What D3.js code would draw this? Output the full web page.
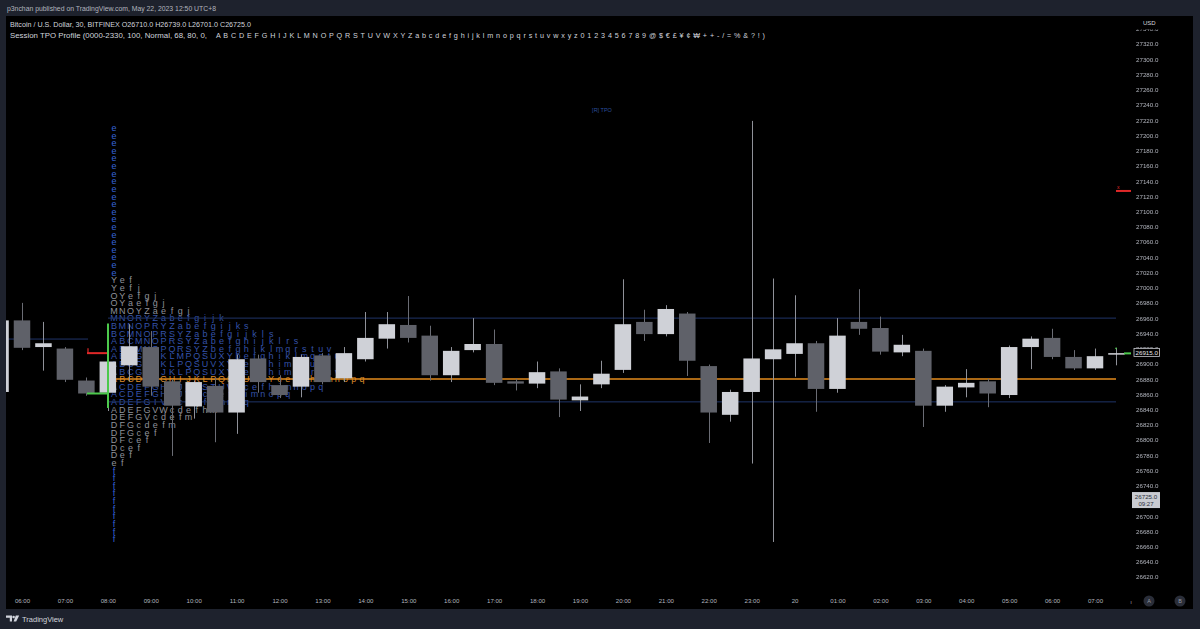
<!DOCTYPE html>
<html><head><meta charset="utf-8">
<script src="https://cdn.jsdelivr.net/npm/d3@7"></script>
<style>
body{margin:0;background:#1e222d;overflow:hidden;}
svg{display:block;font-family:"Liberation Sans",Arial,sans-serif;}
</style></head><body>
<svg id="c" width="1200" height="629"></svg>
<script>
// ---------- DATA ----------
const candleTimes = [
 "2023-05-19 05:30","2023-05-19 06:00","2023-05-19 06:30","2023-05-19 07:00","2023-05-19 07:30",
 "2023-05-19 08:00","2023-05-19 08:30","2023-05-19 09:00","2023-05-19 09:30","2023-05-19 10:00",
 "2023-05-19 10:30","2023-05-19 11:00","2023-05-19 11:30","2023-05-19 12:00","2023-05-19 12:30",
 "2023-05-19 13:00","2023-05-19 13:30","2023-05-19 14:00","2023-05-19 14:30","2023-05-19 15:00",
 "2023-05-19 15:30","2023-05-19 16:00","2023-05-19 16:30","2023-05-19 17:00","2023-05-19 17:30",
 "2023-05-19 18:00","2023-05-19 18:30","2023-05-19 19:00","2023-05-19 19:30","2023-05-19 20:00",
 "2023-05-19 20:30","2023-05-19 21:00","2023-05-19 21:30","2023-05-19 22:00","2023-05-19 22:30",
 "2023-05-19 23:00","2023-05-19 23:30","2023-05-20 00:00","2023-05-20 00:30","2023-05-20 01:00",
 "2023-05-20 01:30","2023-05-20 02:00","2023-05-20 02:30","2023-05-20 03:00","2023-05-20 03:30",
 "2023-05-20 04:00","2023-05-20 04:30","2023-05-20 05:00","2023-05-20 05:30","2023-05-20 06:00",
 "2023-05-20 06:30","2023-05-20 07:00","2023-05-20 07:30"];
const opens  = [26863,26957,26922,26920,26878,26862,26898,26922,26877,26844,26871,26836,26907,26872,26870,26911,26881,26906,26933,26951,26937,26885,26918,26926,26877,26874,26890,26852,26873,26892,26955,26939,26966,26897,26833,26863,26906,26913,26927,26867,26955,26947,26915,26917,26845,26869,26877,26859,26922,26934,26909,26894,26912];
const highs  = [26962,26980,26955,26922,26882,26935,26952,26943,26880,26878,26882,26912,26912,26885,26912,26914,26922,26968,26968,26989,26950,26922,26960,26945,26880,26903,26894,26873,26904,27011,26971,26977,26968,26899,26866,27219,27012,26990,26930,26960,26998,26962,26938,26920,26872,26893,26880,26924,26936,26946,26918,26920,26921];
const lows   = [26858,26918,26891,26876,26858,26838,26877,26858,26779,26828,26797,26808,26862,26855,26856,26873,26876,26903,26920,26928,26878,26876,26915,26872,26865,26868,26830,26838,26868,26888,26930,26936,26884,26796,26824,26769,26666,26883,26837,26862,26938,26912,26910,26817,26837,26856,26843,26855,26893,26906,26892,26892,26898];
const closes = [26957,26921,26927,26879,26861,26903,26923,26870,26845,26876,26836,26906,26876,26859,26909,26876,26914,26934,26952,26934,26885,26917,26926,26875,26874,26889,26853,26857,26887,26952,26939,26972,26904,26836,26863,26907,26919,26927,26867,26937,26946,26916,26925,26845,26870,26875,26861,26922,26933,26909,26894,26910,26914];

const tpoLevels = [27210,27200,27190,27180,27170,27160,27150,27140,27130,27120,27110,27100,27090,27080,27070,27060,27050,27040,27030,27020,
 27010,27000,26990,26980,26970,26960,26950,26940,26930,26920,26910,26900,26890,26880,26870,26860,26850,26840,26830,26820,26810,26800,26790,26780,26770,
 26760,26750,26740,26730,26720,26710,26700,26690,26680,26670];
const tpoRows = ["e","e","e","e","e","e","e","e","e","e","e","e","e","e","e","e","e","e","e","e",
 "Yef","Yefj","OYefgj","OYaefgj","MNOYZaefgj","MNORYZabefgijk","BMNOPRYZabefgijks","BCMNOPRSYZabefgijkls",
 "ABCMNOPRSYZabefghijklrs","ABCMNOPQRSYZbefghiklmqrstuv","ABCGHJKLMPQSUXYbefghiklmqstuv","ABCGHJKLPQSUVXYbefghimqtuv",
 "ABCGHIJKLPQSUXYbefghimoqrtuv","ABCDEFGHIJKLPQSTUVXYcefghimnopq","ACDEFGHIJPQSTUVWcefhimnopq","ACDEFGHIJVWcdefhimnopq",
 "ADEFGIVWcdefhmnpq","ADEFGVWcdefhm","DEFGVcdefm","DFGcdefm","DFGcef","DFcef","Dcef","Def","ef",
 "f","f","f","f","f","f","f","f","f","f"];
const pocPrice = 26880, vahPrice = 26960, valPrice = 26850;
const prevLevel = 26932.5;
const ibHigh = 26914, ibLow = 26861, ibRangeTop = 26953, ibRangeBottom = 26842;
const rightRed = 27127, lastMarker = 26915;
const lastPrice = 26725.0;

const priceTicks = d3.range(26620, 27341, 20);
const timeTickStrings = ["2023-05-19 06:00","2023-05-19 07:00","2023-05-19 08:00","2023-05-19 09:00","2023-05-19 10:00",
 "2023-05-19 11:00","2023-05-19 12:00","2023-05-19 13:00","2023-05-19 14:00","2023-05-19 15:00","2023-05-19 16:00",
 "2023-05-19 17:00","2023-05-19 18:00","2023-05-19 19:00","2023-05-19 20:00","2023-05-19 21:00","2023-05-19 22:00",
 "2023-05-19 23:00","2023-05-20 00:00","2023-05-20 01:00","2023-05-20 02:00","2023-05-20 03:00","2023-05-20 04:00",
 "2023-05-20 05:00","2023-05-20 06:00","2023-05-20 07:00"];

// ---------- SCALES ----------
const parse = d3.timeParse("%Y-%m-%d %H:%M");
const candles = candleTimes.map((t,i)=>({t:parse(t),o:opens[i],h:highs[i],l:lows[i],c:closes[i]}));
const x = d3.scaleTime().domain([parse("2023-05-19 06:00"), parse("2023-05-20 07:00")]).range([22, 1095]);
const y = d3.scaleLinear().domain([26620, 27320]).range([577, 44]);

const svg = d3.select("#c");
svg.append("rect").attr("width",1200).attr("height",629).attr("fill","#1e222d");
svg.append("rect").attr("x",6).attr("y",16).attr("width",1187).attr("height",593).attr("fill","#000");

const defs = svg.append("defs");
defs.append("clipPath").attr("id","plot").append("rect").attr("x",6).attr("y",16).attr("width",1125).attr("height",574);
defs.append("clipPath").attr("id","pax").append("rect").attr("x",1131).attr("y",29.5).attr("width",62).attr("height",560);

// header texts
svg.append("text").attr("x",7).attr("y",10.5).attr("fill","#b2b5be").attr("font-size",6.8)
  .attr("textLength",209).attr("lengthAdjust","spacingAndGlyphs")
  .text("p3nchan published on TradingView.com, May 22, 2023 12:50 UTC+8");
svg.append("text").attr("x",10).attr("y",26.5).attr("fill","#d1d4dc").attr("font-size",7)
  .attr("textLength",241).attr("lengthAdjust","spacingAndGlyphs")
  .text("Bitcoin / U.S. Dollar, 30, BITFINEX  O26710.0  H26739.0  L26701.0  C26725.0");
svg.append("text").attr("x",10).attr("y",37.5).attr("fill","#d1d4dc").attr("font-size",7)
  .attr("textLength",197).attr("lengthAdjust","spacingAndGlyphs")
  .text("Session TPO Profile (0000-2330, 100, Normal, 68, 80, 0,");
svg.append("text").attr("x",216).attr("y",37.5).attr("fill","#d1d4dc").attr("font-size",7.2)
  .attr("textLength",549).attr("lengthAdjust","spacing")
  .text("A B C D E F G H I J K L M N O P Q R S T U V W X Y Z a b c d e f g h i j k l m n o p q r s t u v w x y z 0 1 2 3 4 5 6 7 8 9 @ $ € £ ¥ ¢ ₩ + + - / = % & ? ! )");

const plot = svg.append("g").attr("clip-path","url(#plot)");

// TPO letters
const colX0 = 114, colDX = 8.27;
const tpo = tpoLevels.map((p,i)=>({p, s:tpoRows[i]}));
plot.append("g").selectAll("text").data(tpo).join("text")
  .attr("x", d => d.s.split("").map((c,i)=> (colX0 + i*colDX).toFixed(2)).join(" "))
  .attr("y", d => y(d.p)).attr("dy","0.36em")
  .attr("text-anchor","middle").attr("font-size",9)
  .attr("fill", d => d.p===pocPrice ? "#d9892a" : (d.s.length===1 ? "#3563d6" : (d.p<=vahPrice && d.p>=valPrice ? "#3452a8" : "#8f9199")))
  .text(d => d.s);

// levels
const lvl = plot.append("g");
lvl.append("line").attr("x1",108).attr("x2",1116).attr("y1",y(vahPrice)).attr("y2",y(vahPrice)).attr("stroke","#1f3468").attr("stroke-width",1);
lvl.append("line").attr("x1",108).attr("x2",1116).attr("y1",y(valPrice)).attr("y2",y(valPrice)).attr("stroke","#1f3468").attr("stroke-width",1);
lvl.append("line").attr("x1",108).attr("x2",1116).attr("y1",y(pocPrice)).attr("y2",y(pocPrice)).attr("stroke","#e38b1c").attr("stroke-width",1.4);
lvl.append("line").attr("x1",6).attr("x2",88).attr("y1",y(prevLevel)).attr("y2",y(prevLevel)).attr("stroke","#1f3468").attr("stroke-width",1);

// candles
const bw = 16.5;
const cg = plot.append("g");
cg.selectAll("line.w").data(candles).join("line").attr("class","w")
  .attr("x1",d=>Math.round(x(d.t))+0.5).attr("x2",d=>Math.round(x(d.t))+0.5)
  .attr("y1",d=>y(d.h)).attr("y2",d=>y(d.l))
  .attr("stroke",d=> d.c>=d.o ? "#8f9199" : "#6a6c74").attr("stroke-width",1);
cg.selectAll("rect").data(candles).join("rect")
  .attr("x",d=>x(d.t)-bw/2).attr("width",bw)
  .attr("y",d=>y(Math.max(d.o,d.c))).attr("height",d=>Math.max(1.5,Math.abs(y(d.o)-y(d.c))))
  .attr("fill",d=> d.c>=d.o ? "#cfd1d7" : "#5f6169");

// markers
const mk = plot.append("g");
mk.append("line").attr("x1",87).attr("x2",107).attr("y1",y(ibHigh)).attr("y2",y(ibHigh)).attr("stroke","#e02828").attr("stroke-width",2);
mk.append("line").attr("x1",88).attr("x2",88).attr("y1",y(ibHigh)-5).attr("y2",y(ibHigh)).attr("stroke","#e02828").attr("stroke-width",1.2);
mk.append("line").attr("x1",87).attr("x2",107).attr("y1",y(ibLow)).attr("y2",y(ibLow)).attr("stroke","#4cc94c").attr("stroke-width",2);
mk.append("line").attr("x1",108).attr("x2",108).attr("y1",y(ibRangeTop)).attr("y2",y(ibRangeBottom)).attr("stroke","#4cc94c").attr("stroke-width",2);
mk.append("line").attr("x1",1116).attr("x2",1132).attr("y1",y(rightRed)).attr("y2",y(rightRed)).attr("stroke","#e02828").attr("stroke-width",2);
mk.append("text").attr("x",1117).attr("y",y(rightRed)-1.5).attr("fill","#e02828").attr("font-size",5).text("x");
mk.append("line").attr("x1",1124).attr("x2",1132).attr("y1",y(lastMarker)+1).attr("y2",y(lastMarker)+1).attr("stroke","#4cc94c").attr("stroke-width",2);
mk.append("circle").attr("cx",1116).attr("cy",y(lastMarker)-4).attr("r",0.8).attr("fill","#4cc94c");

plot.append("text").attr("x",602).attr("y",112).attr("text-anchor","middle").attr("font-size",5.5).attr("fill","#2b4f9e").text("[R] TPO");

// price axis (labels hidden behind the price boxes are masked as on the reference)
const boxA = {x:1134, y:y(lastMarker)-4, w:25.5, h:8};
const boxB = {x:1132, y:y(lastPrice)-5, w:28, h:16};
const mask = defs.append("mask").attr("id","pm");
mask.append("rect").attr("x",1100).attr("y",0).attr("width",100).attr("height",629).attr("fill","#fff");
[boxA, boxB].forEach(b=>mask.append("rect").attr("x",b.x-2).attr("y",b.y).attr("width",b.w+4).attr("height",b.h+3).attr("fill","#000"));
const pax = svg.append("g").attr("clip-path","url(#pax)").append("g").attr("mask","url(#pm)")
  .append("g").attr("transform","translate(1136,0)")
  .call(d3.axisRight(y).tickValues(priceTicks.filter(v => Math.abs(y(v)-y(lastPrice)-3) > 9)).tickSize(0).tickPadding(0).tickFormat(d=>d.toFixed(1)));
pax.select(".domain").remove();
pax.selectAll("text").attr("fill","#b2b5be").attr("font-size",6.2).attr("font-family","Liberation Sans, Arial, sans-serif");
svg.append("text").attr("x",1143).attr("y",24.5).attr("fill","#d1d4dc").attr("font-size",6).text("USD");

// price labels
const lb = svg.append("g");
lb.append("rect").attr("x",boxA.x).attr("y",boxA.y).attr("width",boxA.w).attr("height",boxA.h).attr("fill","#000").attr("stroke","#c8cad0").attr("stroke-width",0.8);
lb.append("text").attr("x",1146.7).attr("y",y(lastMarker)+2.2).attr("text-anchor","middle").attr("fill","#e6e7eb").attr("font-size",6.2).text(lastMarker.toFixed(1));
lb.append("rect").attr("x",boxB.x).attr("y",boxB.y).attr("width",boxB.w).attr("height",boxB.h).attr("fill","#c9cbd1");
lb.append("text").attr("x",1146).attr("y",y(lastPrice)+1.5).attr("text-anchor","middle").attr("fill","#2a2e39").attr("font-size",6.2).text(lastPrice.toFixed(1));
lb.append("text").attr("x",1146).attr("y",y(lastPrice)+8.5).attr("text-anchor","middle").attr("fill","#2a2e39").attr("font-size",6).text("09:27");

// time axis
const timeTicks = timeTickStrings.map(parse);
const tax = svg.append("g").attr("transform","translate(0,599)")
  .call(d3.axisBottom(x).tickValues(timeTicks).tickSize(0).tickPadding(0)
    .tickFormat(d => d.getHours()===0 ? d3.timeFormat("%d")(d) : d3.timeFormat("%H:00")(d)));
tax.select(".domain").remove();
tax.selectAll("text").attr("fill","#b2b5be").attr("font-size",6.1).attr("font-family","Liberation Sans, Arial, sans-serif");
svg.append("text").attr("x",1131).attr("y",603.5).attr("text-anchor","middle").attr("fill","#9598a1").attr("font-size",6).text("ı");
[[1149,"A"],[1180,"B"]].forEach(([cx,t])=>{
  svg.append("circle").attr("cx",cx).attr("cy",601).attr("r",5.5).attr("fill","#2a2e39");
  svg.append("text").attr("x",cx).attr("y",603).attr("text-anchor","middle").attr("fill","#9598a1").attr("font-size",5.5).text(t);
});

// footer logo
const lg = svg.append("g").attr("fill","#d1d4dc");
lg.append("path").attr("d","M6 615.5h6v6h-2.2v-3.8H6z");
lg.append("circle").attr("cx",13.6).attr("cy",617).attr("r",1.3);
lg.append("path").attr("d","M15.8 615.5h3.4l-3 6h-2.6z");
lg.append("text").attr("x",22).attr("y",621.5).attr("font-size",7.5).text("TradingView");
</script>
</body></html>
